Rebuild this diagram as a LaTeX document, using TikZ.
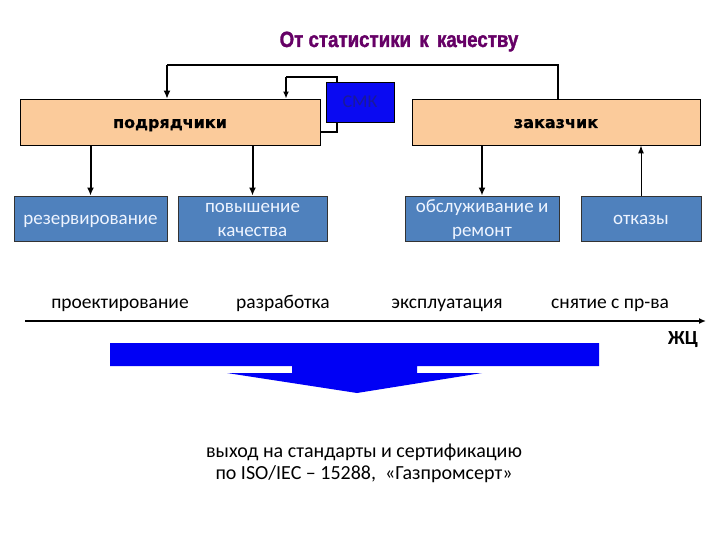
\documentclass[tikz,border=0pt]{standalone}
\usepackage{fontspec}
\setmainfont{Carlito}
\newfontfamily\titlefont[BoldFeatures={FakeBold=1.6}]{Liberation Sans}
\newfontfamily\headfont[BoldFeatures={FakeBold=0.6}]{DejaVu Sans}
\usetikzlibrary{arrows.meta}
\definecolor{peach}{HTML}{FBCB9B}
\definecolor{steel}{HTML}{4F81BD}
\definecolor{boxtext}{HTML}{EEF4FF}
\definecolor{smkblue}{HTML}{0A0AF2}
\definecolor{smktext}{HTML}{1A1A99}
\definecolor{titlecol}{HTML}{660066}
\definecolor{barblue}{HTML}{0000F5}
\tikzset{
  peachbox/.style={draw=black, line width=0.9pt, fill=peach, minimum height=46pt, inner sep=0pt, text height=14pt, text depth=2pt, font=\headfont\bfseries\fontsize{16}{20}\selectfont},
  stagebox/.style={draw=black!80, line width=0.9pt, fill=steel, minimum height=45pt, inner sep=0pt, text=boxtext, align=center, font=\fontsize{19}{24}\selectfont},
  oneline/.style={text height=14pt, text depth=2pt},
  twoline/.style={text height=38pt, text depth=2pt},
  smkbox/.style={draw=black, line width=0.9pt, fill=smkblue, minimum width=68pt, minimum height=40pt, inner sep=0pt, text height=12pt, text depth=0pt, text=smktext, font=\fontsize{18}{20}\selectfont},
  phase/.style={font=\fontsize{19.5}{24}\selectfont, inner sep=0pt, anchor=base},
  fbline/.style={line width=1.2pt},
  downarrow/.style={line width=2pt, -{Latex[length=8pt,width=7pt]}},
  fbarrow/.style={line width=1.2pt, -{Latex[length=8pt,width=7pt]}},
  uparrow/.style={line width=1pt, -{Latex[length=8pt,width=6pt]}},
  lcarrow/.style={line width=1.4pt, -{Latex[length=7pt,width=6pt]}}
}
\begin{document}
\begin{tikzpicture}[x=1pt,y=-1pt]
\useasboundingbox (0,0) rectangle (720,540);
% title
\node[inner sep=0pt, text=titlecol, anchor=base] (title) at (399,47) {\scalebox{0.85}[1]{\titlefont\bfseries\fontsize{22}{24}\selectfont От статистики\, к\, качеству}};
% top boxes
\node[peachbox, minimum width=300pt] (pod) at (170,122) {подрядчики};
\node[peachbox, minimum width=288pt] (zak) at (556,122) {заказчик};
\node[smkbox] (smk) at (360,102) {СМК};
% stage boxes
\node[stagebox, oneline, minimum width=153pt] (rez) at (90.5,218.5) {резервирование};
\node[stagebox, twoline, minimum width=149pt] (pov) at (252.5,218.5) {повышение\\качества};
\node[stagebox, twoline, minimum width=154pt] (obs) at (482,218.5) {обслуживание и\\ремонт};
\node[stagebox, oneline, minimum width=120pt] (otk) at (641,218.5) {отказы};
% feedback loop
\coordinate (fa) at (558,65);
\coordinate (fb) at (167,65);
\draw[fbline] (zak.north -| fa) -- (fa) -- (fb);
\draw[fbarrow] (fb) -- (fb |- pod.north);
% small loop via SMK
\coordinate (la) at (337,132);
\coordinate (lb) at (337,77);
\coordinate (lc) at (286,77);
\draw[fbline] (pod.east |- la) -- (la) -- (la |- smk.south);
\draw[fbline] (smk.north -| lb) -- (lb) -- (lc);
\draw[lcarrow] (lc) -- (lc |- pod.north);
% down / up arrows
\draw[downarrow] (pod.south -| rez.north) -- (rez.north);
\draw[downarrow] (pod.south -| pov.north) -- (pov.north);
\draw[downarrow] (zak.south -| obs.north) -- (obs.north);
\draw[uparrow] (otk.north) -- (otk.north |- zak.south);
% timeline
\node[phase] (p1) at (120,308) {проектирование};
\node[phase] (p2) at (283,308) {разработка};
\node[phase] (p3) at (447,308) {эксплуатация};
\node[phase] (p4) at (610,308) {снятие с пр-ва};
\coordinate (t0) at (25,321);
\coordinate (t1) at (706,321);
\draw[line width=1.6pt, -{Latex[length=7pt,width=6pt]}] (t0) -- (t1);
\node[inner sep=0pt, anchor=base, font=\fontsize{20}{24}\selectfont\bfseries] (zc) at (683,344) {ЖЦ};
% big arrow
\fill[barblue] (110,343) -- (599,343) -- (599,366) -- (417,366) -- (417,373) -- (482,373) -- (357,393) -- (227,373) -- (292,373) -- (292,366) -- (110,366) -- cycle;
% bottom text
\node[align=center, inner sep=0pt, font=\fontsize{20}{22}\selectfont] (out) at (364,463) {выход на стандарты и сертификацию\\по ISO/IEC -- 15288,\ \ «Газпромсерт»};
\end{tikzpicture}
\end{document}
